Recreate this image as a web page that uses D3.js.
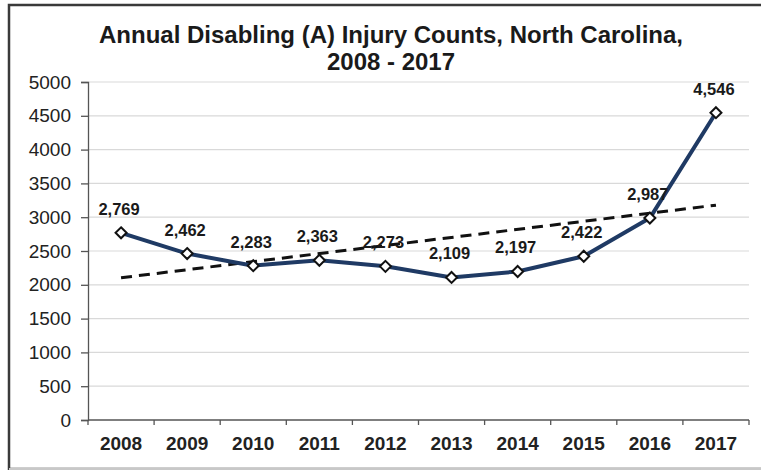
<!DOCTYPE html>
<html>
<head>
<meta charset="utf-8">
<script src="https://cdn.jsdelivr.net/npm/d3@7"></script>
<style>
  body { margin: 0; background: #fff; }
  svg { display: block; font-family: "Liberation Sans", Arial, sans-serif; }
</style>
</head>
<body>
<svg id="chart" width="761" height="470"></svg>
<script>
// data
var years = ["2008", "2009", "2010", "2011", "2012", "2013", "2014", "2015", "2016", "2017"];
var counts = [2769, 2462, 2283, 2363, 2273, 2109, 2197, 2422, 2987, 4546];
var yTicks = [0, 500, 1000, 1500, 2000, 2500, 3000, 3500, 4000, 4500, 5000];

var svg = d3.select("#chart");

// plot area
var plotLeft = 88, plotRight = 749, plotTop = 82, plotBottom = 420;

var x = d3.scaleBand().domain(years).range([plotLeft, plotRight]).padding(0);
var y = d3.scaleLinear().domain([0, 5000]).range([plotBottom, plotTop]);
var cx = function(d, i) { return x(years[i]) + x.bandwidth() / 2; };

// outer frame
svg.append("rect")
        .attr("x", 9).attr("y", 5)
        .attr("width", 780).attr("height", 464)
        .attr("fill", "none")
        .attr("stroke", "#3a3a3a")
        .attr("stroke-width", 2.5);
svg.append("line")
        .attr("x1", 9).attr("x2", 761)
        .attr("y1", 469).attr("y2", 469)
        .attr("stroke", "#c8c8c8")
        .attr("stroke-width", 2);

// gridlines
svg.append("g")
        .selectAll("line")
        .data(yTicks.filter(function(t) { return t > 0; }))
        .join("line")
        .attr("x1", plotLeft).attr("x2", plotRight)
        .attr("y1", function(d) { return y(d); })
        .attr("y2", function(d) { return y(d); })
        .attr("stroke", "#d9d9d9")
        .attr("stroke-width", 1.2);

// y axis
var yAxis = svg.append("g")
        .attr("transform", "translate(" + plotLeft + ",0)")
        .call(d3.axisLeft(y).tickValues(yTicks).tickSize(7).tickPadding(10).tickFormat(d3.format("d")));
yAxis.select(".domain").attr("stroke", "#555").attr("stroke-width", 1.3);
yAxis.selectAll(".tick line").attr("stroke", "#555").attr("stroke-width", 1.3);
yAxis.selectAll("text")
        .attr("font-size", "19px")
        .attr("fill", "#222")
        .attr("font-family", "Liberation Sans, Arial, sans-serif");

// x axis (ticks at category boundaries)
var xAxis = svg.append("g")
        .attr("transform", "translate(0," + plotBottom + ")");
xAxis.append("line")
        .attr("x1", plotLeft).attr("x2", plotRight)
        .attr("stroke", "#555").attr("stroke-width", 1.3);
xAxis.selectAll(".bnd")
        .data(years.concat(["end"]))
        .join("line")
        .attr("class", "bnd")
        .attr("x1", function(d, i) { return i < years.length ? x(d) : plotRight; })
        .attr("x2", function(d, i) { return i < years.length ? x(d) : plotRight; })
        .attr("y1", 0).attr("y2", 5)
        .attr("stroke", "#555").attr("stroke-width", 1.3);
xAxis.selectAll("text")
        .data(years)
        .join("text")
        .attr("x", function(d) { return x(d) + x.bandwidth() / 2; })
        .attr("y", 30)
        .attr("text-anchor", "middle")
        .attr("font-size", "19px")
        .attr("font-weight", "bold")
        .attr("fill", "#222")
        .text(function(d) { return d; });

// linear trend line (least squares over the counts)
var n = counts.length;
var mx = d3.mean(counts, function(d, i) { return i; });
var my = d3.mean(counts);
var sxy = d3.sum(counts, function(d, i) { return (i - mx) * (d - my); });
var sxx = d3.sum(counts, function(d, i) { return (i - mx) * (i - mx); });
var slope = sxy / sxx, icpt = my - slope * mx;
svg.append("line")
        .attr("x1", cx(0, 0)).attr("y1", y(icpt))
        .attr("x2", cx(0, n - 1)).attr("y2", y(icpt + slope * (n - 1)))
        .attr("stroke", "#111")
        .attr("stroke-width", 3)
        .attr("stroke-dasharray", "11,7");

// main series line
var line = d3.line()
        .x(function(d, i) { return cx(d, i); })
        .y(function(d) { return y(d); });
svg.append("path")
        .datum(counts)
        .attr("d", line)
        .attr("fill", "none")
        .attr("stroke", "#1f3a64")
        .attr("stroke-width", 4)
        .attr("stroke-linejoin", "round");

// diamond markers
svg.append("g")
        .selectAll("path")
        .data(counts)
        .join("path")
        .attr("d", "M0,-5.5L5.5,0L0,5.5L-5.5,0Z")
        .attr("transform", function(d, i) { return "translate(" + cx(d, i) + "," + y(d) + ")"; })
        .attr("fill", "#fff")
        .attr("stroke", "#111")
        .attr("stroke-width", 2);

// data labels
svg.append("g")
        .selectAll("text")
        .data(counts)
        .join("text")
        .attr("x", function(d, i) { return cx(d, i) - 2; })
        .attr("y", function(d) { return y(d) - 18; })
        .attr("text-anchor", "middle")
        .attr("font-size", "16.5px")
        .attr("font-weight", "bold")
        .attr("fill", "#1a1a1a")
        .text(d3.format(","));

// title
var title = svg.append("text")
        .attr("text-anchor", "middle")
        .attr("font-size", "24px")
        .attr("font-weight", "bold")
        .attr("fill", "#1a1a1a");
title.append("tspan").attr("x", 391).attr("y", 43).text("Annual Disabling (A) Injury Counts, North Carolina,");
title.append("tspan").attr("x", 391).attr("y", 70).text("2008 - 2017");
</script>
</body>
</html>
